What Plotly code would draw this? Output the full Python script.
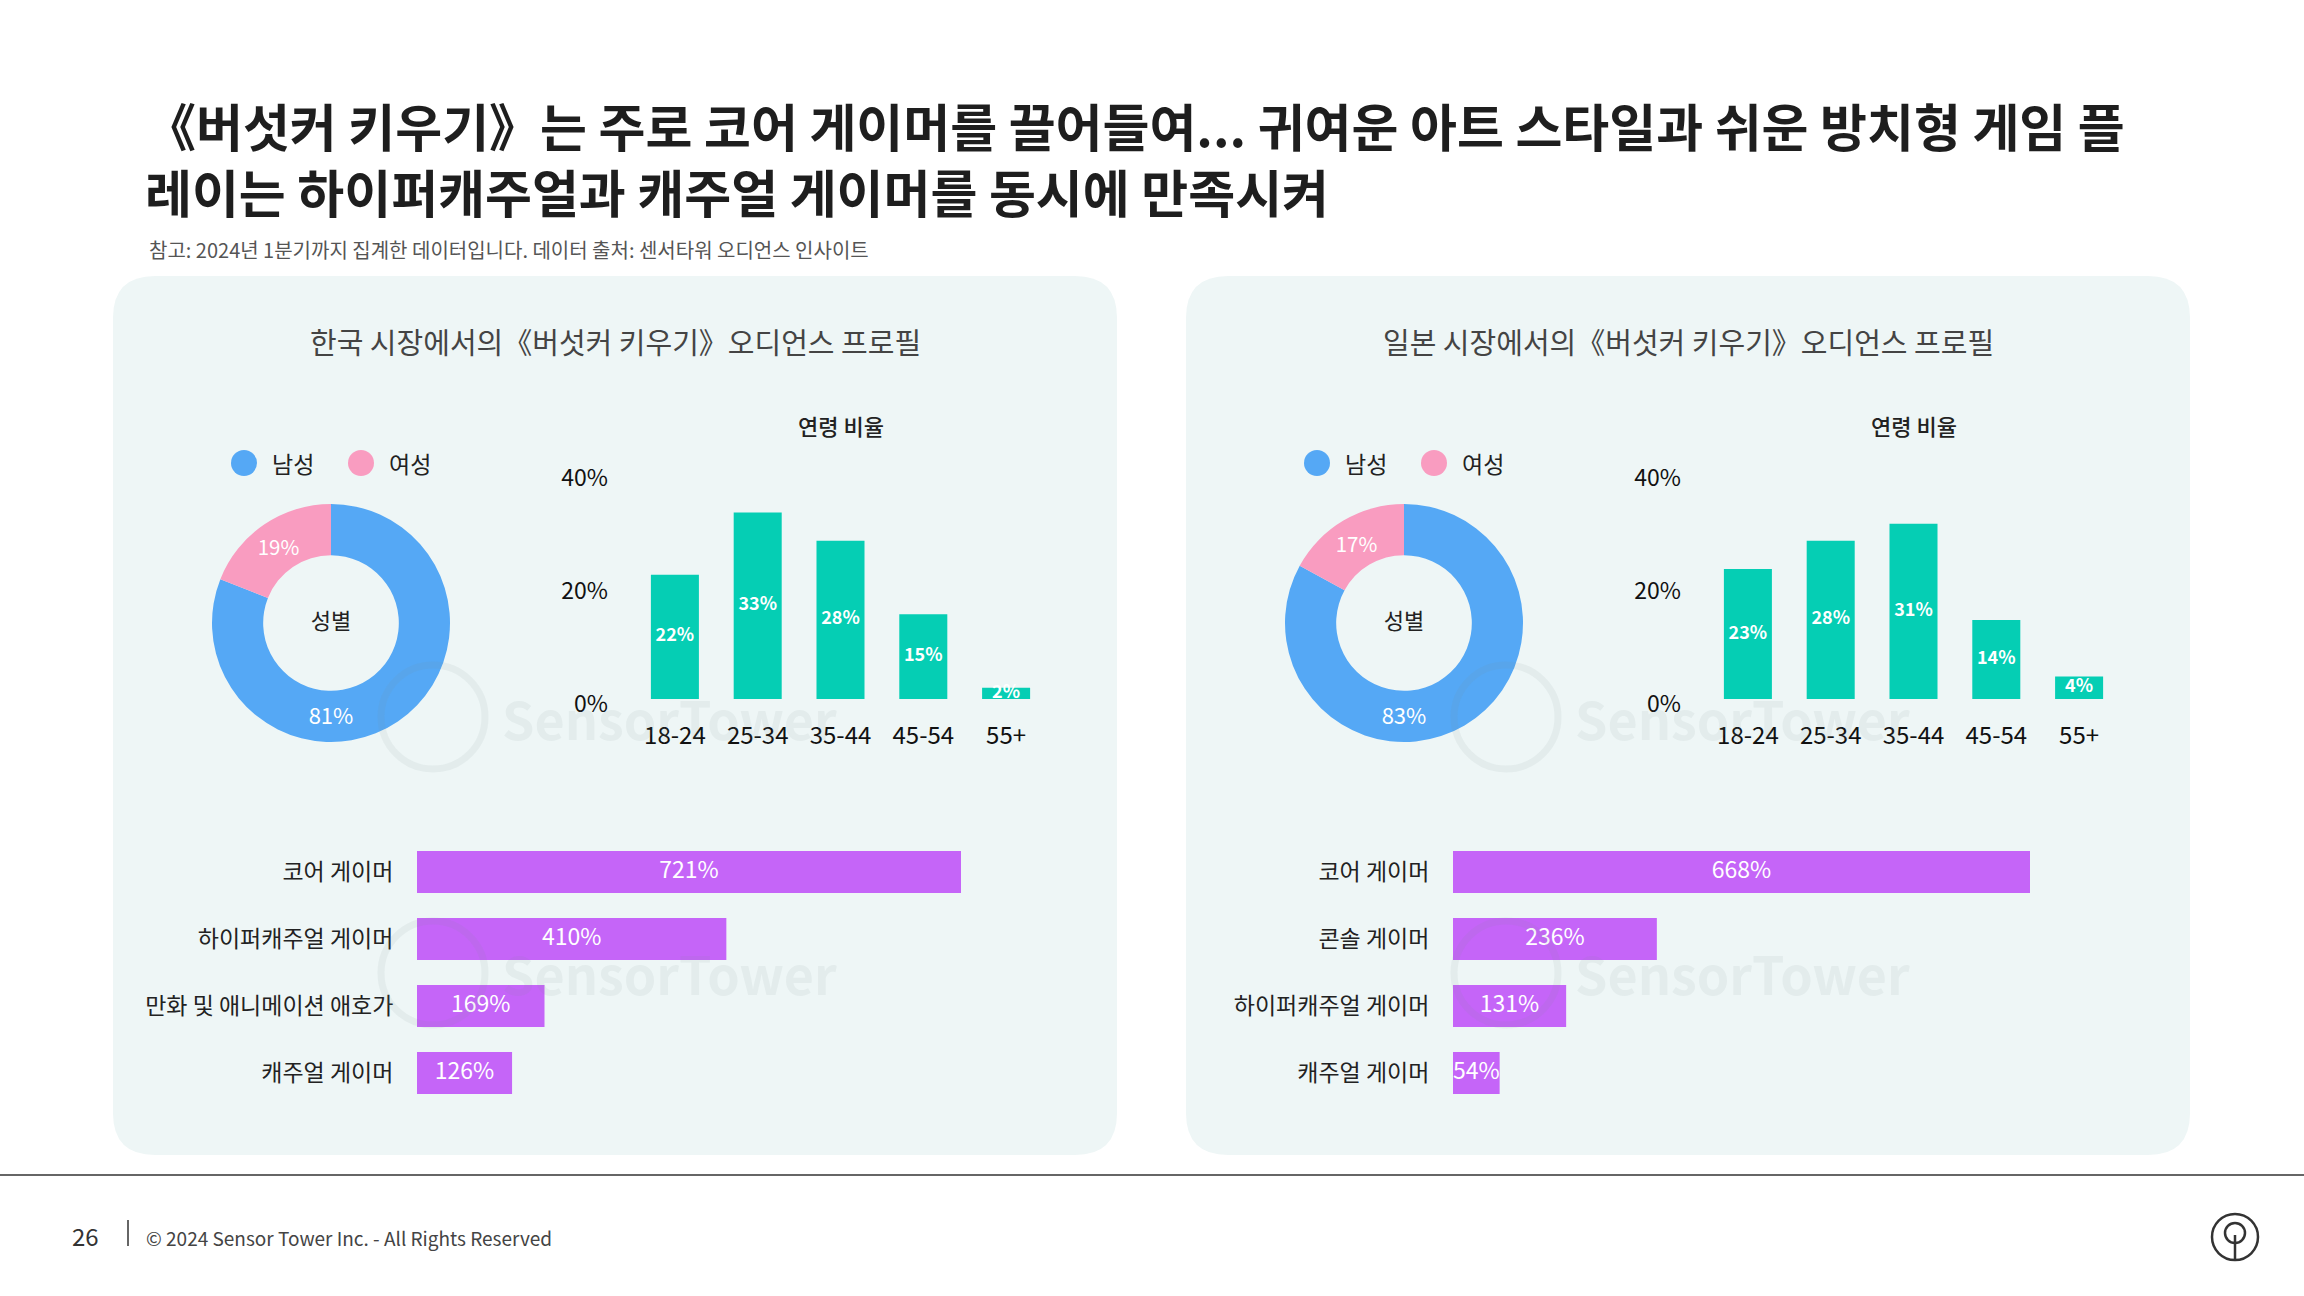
import plotly.graph_objects as go

W, H = 2304, 1296
FONT = "Noto Sans CJK KR"

# ---------------- data ----------------
gender_labels = ["남성", "여성"]
kr_gender = [81, 19]
jp_gender = [83, 17]

age_labels = ["18-24", "25-34", "35-44", "45-54", "55+"]
kr_age = [22, 33, 28, 15, 2]
jp_age = [23, 28, 31, 14, 4]
age_ticks = [0, 20, 40]
age_ticktext = ["0%", "20%", "40%"]

kr_aff_labels = ["코어 게이머", "하이퍼캐주얼 게이머", "만화 및 애니메이션 애호가", "캐주얼 게이머"]
kr_aff = [721, 410, 169, 126]
jp_aff_labels = ["코어 게이머", "콘솔 게이머", "하이퍼캐주얼 게이머", "캐주얼 게이머"]
jp_aff = [668, 236, 131, 54]

title_text = ("《버섯커 키우기》는 주로 코어 게이머를 끌어들여... 귀여운 아트 스타일과 쉬운 방치형 게임 플<br>"
              "레이는 하이퍼캐주얼과 캐주얼 게이머를 동시에 만족시켜")
note_text = "참고: 2024년 1분기까지 집계한 데이터입니다. 데이터 출처: 센서타워 오디언스 인사이트"
panel_titles = ["한국 시장에서의《버섯커 키우기》오디언스 프로필", "일본 시장에서의《버섯커 키우기》오디언스 프로필"]

# ---------------- style ----------------
BLUE = "#55A8F5"
PINK = "#F99CC0"
TEAL = "#05CEB4"
PURPLE = "#C565F8"
PANEL = "#EEF6F6"


def px(x):
    return x / W


def py(y):
    return 1 - y / H


fig = go.Figure()
shapes = []
annotations = []


def rounded_rect(x0, y0, x1, y1, r):
    a, b, c, d = px(x0), px(x1), py(y0), py(y1)
    rx, ry = r / W, r / H
    return (f"M {a+rx},{c} L {b-rx},{c} Q {b},{c} {b},{c-ry} L {b},{d+ry} Q {b},{d} {b-rx},{d} "
            f"L {a+rx},{d} Q {a},{d} {a},{d+ry} L {a},{c-ry} Q {a},{c} {a+rx},{c} Z")


panels = [
    dict(off=0, gender=kr_gender, age=kr_age, aff=kr_aff, aff_labels=kr_aff_labels, title=panel_titles[0]),
    dict(off=1073, gender=jp_gender, age=jp_age, aff=jp_aff, aff_labels=jp_aff_labels, title=panel_titles[1]),
]
aff_domains = [(417, 961), (1453, 2030)]

for i, p in enumerate(panels):
    o = p["off"]
    n = i + 1
    # panel background
    shapes.append(dict(type="path", path=rounded_rect(113 + o, 276, 1117 + o, 1155, 42),
                       xref="paper", yref="paper", fillcolor=PANEL, line=dict(width=0), layer="below"))
    # panel title
    annotations.append(dict(x=px(615 + o), y=py(341), xref="paper", yref="paper", text=p["title"],
                            showarrow=False, font=dict(family=FONT, size=29, color="#444444"),
                            xanchor="center", yanchor="middle"))
    # donut
    fig.add_trace(go.Pie(
        labels=gender_labels, values=p["gender"], sort=False, direction="clockwise", rotation=0,
        hole=0.57, marker=dict(colors=[BLUE, PINK], line=dict(width=0)),
        text=[f"{v}%" for v in p["gender"]], textinfo="text", textposition="inside",
        insidetextorientation="horizontal", automargin=False,
        textfont=dict(family=FONT, size=22, color="white"),
        title=dict(text="성별", position="middle center", font=dict(family=FONT, size=22, color="#222222")),
        domain=dict(x=[px(212 + o), px(450 + o)], y=[py(742), py(504)]),
        showlegend=False, hoverinfo="label+percent"))
    # legend markers
    for cx, col, lab in [(244, BLUE, gender_labels[0]), (361, PINK, gender_labels[1])]:
        shapes.append(dict(type="circle", xref="paper", yref="paper",
                           x0=px(cx - 13 + o), x1=px(cx + 13 + o), y0=py(463 + 13), y1=py(463 - 13),
                           fillcolor=col, line=dict(width=0)))
        annotations.append(dict(x=px(cx + 26 + o), y=py(463), xref="paper", yref="paper", text=lab,
                                showarrow=False, xanchor="left", yanchor="middle",
                                font=dict(family=FONT, size=23, color="#222222")))
    # age bars
    xa = f"x{2*n}"
    ya = f"y{2*n}"
    fig.add_trace(go.Bar(x=age_labels, y=p["age"], marker=dict(color=TEAL, line=dict(width=0)),
                         xaxis=xa, yaxis=ya, showlegend=False, textposition="none"))
    fig.add_trace(go.Scatter(x=age_labels, y=[v / 2 for v in p["age"]], mode="text",
                             text=[f"{v}%" for v in p["age"]], xaxis=xa, yaxis=ya, showlegend=False,
                             textfont=dict(family=FONT, size=18, color="white", weight=600),
                             cliponaxis=False, hoverinfo="skip"))
    annotations.append(dict(x=px(840.5 + o), y=py(425), xref="paper", yref="paper", text="연령 비율",
                            showarrow=False, font=dict(family=FONT, size=22, color="#222222", weight=500),
                            xanchor="center", yanchor="middle"))
    # affinity bars
    xb = f"x{2*n+1}"
    yb = f"y{2*n+1}"
    fig.add_trace(go.Bar(y=p["aff_labels"], x=p["aff"], orientation="h",
                         marker=dict(color=PURPLE, line=dict(width=0)),
                         xaxis=xb, yaxis=yb, showlegend=False, textposition="none"))
    fig.add_trace(go.Scatter(y=p["aff_labels"], x=[v / 2 for v in p["aff"]], mode="text",
                             text=[f"{v}%" for v in p["aff"]], xaxis=xb, yaxis=yb, showlegend=False,
                             textfont=dict(family=FONT, size=23, color="white"),
                             cliponaxis=False, hoverinfo="skip"))

    axis_common = dict(showgrid=False, zeroline=False, showline=False, automargin=False)
    fig.update_layout(**{
        f"xaxis{2*n}": dict(domain=[px(633.5 + o), px(1047.5 + o)], anchor=ya, type="category",
                            ticks="outside", ticklen=15, tickcolor="rgba(0,0,0,0)",
                            tickfont=dict(family=FONT, size=24, color="#111111"), **axis_common),
        f"yaxis{2*n}": dict(domain=[py(699), py(473)], anchor=xa, range=[0, 40], tickvals=age_ticks,
                            ticktext=age_ticktext, ticks="outside", ticklen=20,
                            tickcolor="rgba(0,0,0,0)", ticklabelshift=5,
                            tickfont=dict(family=FONT, size=23, color="#111111"), **axis_common),
        f"xaxis{2*n+1}": dict(domain=[px(aff_domains[i][0]), px(aff_domains[i][1])], anchor=yb,
                              range=[0, max(p["aff"])], showticklabels=False, **axis_common),
        f"yaxis{2*n+1}": dict(domain=[py(1106.5), py(838.5)], anchor=xb, type="category",
                              autorange="reversed", ticks="outside", ticklen=18,
                              tickcolor="rgba(0,0,0,0)",
                              tickfont=dict(family=FONT, size=23, color="#222222"), **axis_common),
    })

    # watermarks
    for wy in (717, 973):
        shapes.append(dict(type="circle", xref="paper", yref="paper",
                           x0=px(433 - 52 + o), x1=px(433 + 52 + o), y0=py(wy + 52), y1=py(wy - 52),
                           line=dict(color="rgba(120,140,140,0.09)", width=7)))
        annotations.append(dict(x=px(500 + o), y=py(wy), xref="paper", yref="paper", text="SensorTower",
                                showarrow=False, xanchor="left", yanchor="middle",
                                font=dict(family=FONT, size=52, color="rgba(120,140,140,0.09)", weight=700)))

fig.update_layout(bargap=0.42)
for tr in fig.data:
    if isinstance(tr, go.Bar) and tr.orientation == "h":
        tr.width = 0.627

# title & note
annotations.append(dict(x=px(143), y=py(86), xref="paper", yref="paper", text=title_text, showarrow=False,
                        xanchor="left", yanchor="top", align="left",
                        font=dict(family=FONT, size=51, color="#1E1E1E", weight=700)))
annotations.append(dict(x=px(147), y=py(250), xref="paper", yref="paper", text=note_text, showarrow=False,
                        xanchor="left", yanchor="middle",
                        font=dict(family=FONT, size=20, color="#555555")))

# footer
shapes.append(dict(type="line", xref="paper", yref="paper", x0=0, x1=1, y0=py(1175), y1=py(1175),
                   line=dict(color="#666666", width=2)))
shapes.append(dict(type="line", xref="paper", yref="paper", x0=px(128), x1=px(128), y0=py(1220), y1=py(1246),
                   line=dict(color="#333333", width=1.5)))
annotations.append(dict(x=px(85), y=py(1235), xref="paper", yref="paper", text="26", showarrow=False,
                        xanchor="center", yanchor="middle", font=dict(family=FONT, size=24, color="#333333")))
annotations.append(dict(x=px(144), y=py(1237), xref="paper", yref="paper",
                        text="© 2024 Sensor Tower Inc. - All Rights Reserved", showarrow=False,
                        xanchor="left", yanchor="middle", font=dict(family=FONT, size=19, color="#444444")))
# logo
shapes.append(dict(type="circle", xref="paper", yref="paper", x0=px(2212), x1=px(2258), y0=py(1260), y1=py(1214),
                   line=dict(color="#333333", width=2.5)))
shapes.append(dict(type="circle", xref="paper", yref="paper", x0=px(2225), x1=px(2245), y0=py(1243), y1=py(1223),
                   line=dict(color="#333333", width=2.5)))
shapes.append(dict(type="line", xref="paper", yref="paper", x0=px(2235), x1=px(2235), y0=py(1260), y1=py(1235),
                   line=dict(color="#333333", width=2.5)))

fig.update_layout(width=W, height=H, margin=dict(l=0, r=0, t=0, b=0, autoexpand=False),
                  paper_bgcolor="white", plot_bgcolor="rgba(0,0,0,0)",
                  shapes=shapes, annotations=annotations,
                  font=dict(family=FONT), showlegend=False)

fig.write_html("out.html")
